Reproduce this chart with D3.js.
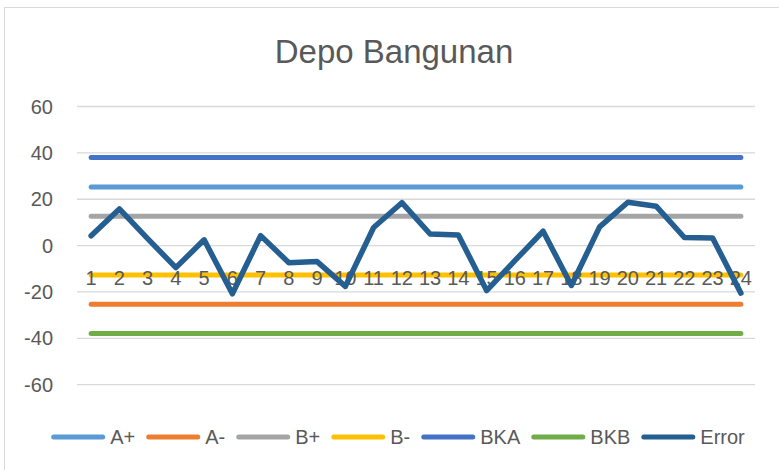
<!DOCTYPE html>
<html>
<head>
<meta charset="utf-8">
<script src="https://cdn.jsdelivr.net/npm/d3@7"></script>
<style>
  body { margin: 0; background: #fff; }
  svg { display: block; font-family: "Liberation Sans", Arial, sans-serif; }
</style>
</head>
<body>
<svg id="chart" width="779" height="470"></svg>
<script>
// category labels on the x axis
const categories = [1, 2, 3, 4, 5, 6, 7, 8, 9, 10, 11, 12, 13, 14, 15, 16, 17, 18, 19, 20, 21, 22, 23, 24];

// control limits (flat lines)
const limitNames = ["A+", "A-", "B+", "B-", "BKA", "BKB"];
const limitValues = [25.3, -25.3, 12.65, -12.65, 37.95, -37.95];
const limitColors = ["#5b9bd5", "#ed7d31", "#a5a5a5", "#ffc000", "#4472c4", "#70ad47"];

// error series
const errorValues = [4.2, 15.8, 3.0, -9.5, 2.5, -20.8, 4.3, -7.4, -6.9, -17.6, 7.8, 18.5,
                     5.0, 4.6, -19.4, -6.5, 6.2, -17.2, 8.1, 18.7, 17.0, 3.5, 3.3, -20.5];
const errorColor = "#255e91";

const yTicks = [-60, -40, -20, 0, 20, 40, 60];

const svg = d3.select("#chart");

// chart border
svg.append("rect")
    .attr("x", 4.5).attr("y", 7.5)
    .attr("width", 800).attr("height", 500)
    .attr("fill", "#fff")
    .attr("stroke", "#d9d9d9")
    .attr("stroke-width", 1);

// title
svg.append("text")
    .attr("x", 394).attr("y", 63)
    .attr("text-anchor", "middle")
    .attr("font-size", 33)
    .attr("fill", "#595959")
    .text("Depo Bangunan");

const x = d3.scaleBand().domain(categories).range([77, 755]);
const y = d3.scaleLinear().domain([-60, 60]).range([384.7, 106.5]);
const cx = d => x(d) + x.bandwidth() / 2;

// gridlines
svg.append("g")
    .selectAll("line")
    .data(yTicks)
    .enter()
    .append("line")
    .attr("x1", 77).attr("x2", 755)
    .attr("y1", d => y(d)).attr("y2", d => y(d))
    .attr("stroke", "#d9d9d9")
    .attr("stroke-width", 1.3);

// y axis labels
svg.append("g")
    .selectAll("text")
    .data(yTicks)
    .enter()
    .append("text")
    .attr("x", 53)
    .attr("y", d => y(d))
    .attr("dy", "0.35em")
    .attr("text-anchor", "end")
    .attr("font-size", 20)
    .attr("fill", "#595959")
    .text(d => d);

// flat limit lines
svg.append("g")
    .selectAll("line")
    .data(limitValues)
    .enter()
    .append("line")
    .attr("x1", cx(categories[0]))
    .attr("x2", cx(categories[categories.length - 1]))
    .attr("y1", d => y(d)).attr("y2", d => y(d))
    .attr("stroke", (d, i) => limitColors[i])
    .attr("stroke-width", 5)
    .attr("stroke-linecap", "round");

// x axis labels
svg.append("g")
    .selectAll("text")
    .data(categories)
    .enter()
    .append("text")
    .attr("x", d => cx(d))
    .attr("y", 285)
    .attr("text-anchor", "middle")
    .attr("font-size", 20)
    .attr("fill", "#595959")
    .text(d => d);

// error line
const line = d3.line()
    .x((d, i) => cx(categories[i]))
    .y(d => y(d));

svg.append("path")
    .datum(errorValues)
    .attr("d", line)
    .attr("fill", "none")
    .attr("stroke", errorColor)
    .attr("stroke-width", 5.5)
    .attr("stroke-linejoin", "round")
    .attr("stroke-linecap", "round");

// legend
const legendNames = limitNames.concat(["Error"]);
const legendColors = limitColors.concat([errorColor]);
const legend = svg.append("g");
let lx = 0;
legendNames.forEach((name, i) => {
    const item = legend.append("g").attr("transform", `translate(${lx},0)`);
    item.append("line")
        .attr("x1", 2.5).attr("x2", 51.5)
        .attr("y1", 0).attr("y2", 0)
        .attr("stroke", legendColors[i])
        .attr("stroke-width", 5)
        .attr("stroke-linecap", "round");
    const t = item.append("text")
        .attr("x", 59)
        .attr("y", 0)
        .attr("dy", "0.35em")
        .attr("font-size", 20)
        .attr("fill", "#595959")
        .text(name);
    lx += 59 + t.node().getComputedTextLength() + 11;
});
const legendWidth = lx - 11;
legend.attr("transform", `translate(${398 - legendWidth / 2},437)`);
</script>
</body>
</html>
